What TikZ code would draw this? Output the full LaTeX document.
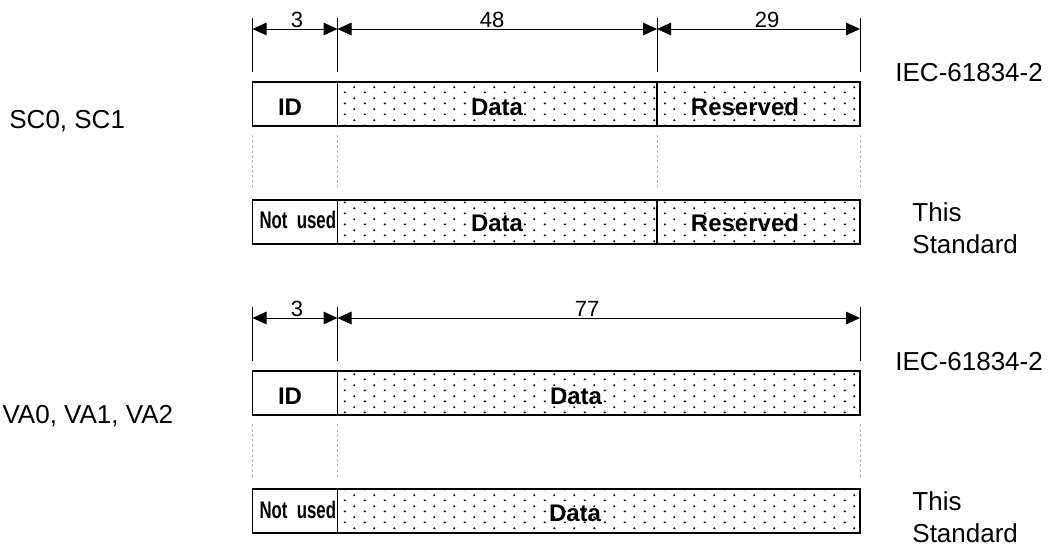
\documentclass[tikz,border=0pt]{standalone}
\usepackage{fontspec}
\setmainfont{Liberation Sans}
\usepackage{graphicx}
\usepackage{tikz}
\usetikzlibrary{arrows.meta,patterns.meta,positioning}

\tikzdeclarepattern{
  name=stagdots,
  type=uncolored,
  bounding box={(0pt,0pt) and (10pt,5.5pt)},
  tile size={(10pt,5.5pt)},
  code={
    \fill (2.5pt,1.4pt) circle (0.6pt);
    \fill (7.5pt,4.15pt) circle (0.6pt);
  }
}

\begin{document}
\begin{tikzpicture}[
  x=0.5pt, y=-0.5pt,
  cell/.style={draw, line width=0.75pt, minimum height=22pt, inner sep=0pt, outer sep=0pt},
  dotcell/.style={cell, pattern=stagdots, pattern color=black},
  lbl/.style={font=\bfseries\fontsize{12}{14}\selectfont, inner sep=0pt, anchor=base},
  num/.style={font=\fontsize{11}{13}\selectfont, inner sep=0pt, anchor=base},
  txt/.style={font=\fontsize{13}{16}\selectfont, inner sep=0pt, align=left},
  ext/.style={line width=0.5pt},
  guide/.style={gray!55, line width=0.4pt, dash pattern=on 1.5pt off 1pt, shorten <=4.5pt, shorten >=6pt},
  dim/.style={{Triangle[length=7pt,width=6.3pt]}-{Triangle[length=7pt,width=6.3pt]}, line width=0.5pt},
]
  \useasboundingbox (0,0) rectangle (1052,546);

  \node[cell, minimum width=42.5pt, anchor=north west] (id1) at (252.5,82) {};
  \node[dotcell, minimum width=159.75pt, right=0pt of id1] (data1) {};
  \node[dotcell, minimum width=101.5pt, right=0pt of data1] (res1) {};
  \node[cell, minimum width=42.5pt, anchor=north west] (nu2) at (252.5,200) {};
  \node[dotcell, minimum width=159.75pt, right=0pt of nu2] (data2) {};
  \node[dotcell, minimum width=101.5pt, right=0pt of data2] (res2) {};

  \node[cell, minimum width=42.5pt, anchor=north west] (id3) at (252.5,371) {};
  \node[dotcell, minimum width=261.25pt, right=0pt of id3] (data3) {};
  \node[cell, minimum width=42.5pt, anchor=north west] (nu4) at (252.5,489) {};
  \node[dotcell, minimum width=261.25pt, right=0pt of nu4] (data4) {};

  \node[lbl] (tid1) at (290,115) {ID};
  \node[lbl] (tdata1) at (497,115) {Data};
  \node[lbl] (tres1) at (745,115) {Reserved};
  \node[lbl, anchor=base east] (tnu2) at (336.5,228) {\scalebox{0.7}[1]{Not\ \ used}};
  \node[lbl] (tdata2) at (497,231) {Data};
  \node[lbl] (tres2) at (745,231) {Reserved};
  \node[lbl] (tid3) at (290,404) {ID};
  \node[lbl] (tdata3) at (576,404) {Data};
  \node[lbl, anchor=base east] (tnu4) at (336.5,518) {\scalebox{0.7}[1]{Not\ \ used}};
  \node[lbl] (tdata4) at (575,521) {Data};

  \foreach \nm/\x in {a/252.5,b/337.5,c/657,d/860}{
    \coordinate (u\nm) at (\x,29);
    \coordinate (l\nm) at (\x,318);
  }
  \foreach \c in {id1.north west,data1.north west,res1.north west,res1.north east,
                  id3.north west,data3.north west,data3.north east}
    \draw[ext] (\c) ++(0,-10) -- ++(0,-54);

  \draw[dim] (ua) -- (ub);
  \draw[dim] (ub) -- (uc);
  \draw[dim] (uc) -- (ud);
  \draw[dim] (la) -- (lb);
  \draw[dim] (lb) -- (ld);

  \node[num] (n3a) at (297,27) {3};
  \node[num] (n48) at (492,27) {48};
  \node[num] (n29) at (767,27) {29};
  \node[num] (n3b) at (297,316) {3};
  \node[num] (n77) at (587,316) {77};

  \draw[guide] (id1.south west) -- (nu2.north west);
  \draw[guide] (data1.south west) -- (data2.north west);
  \draw[guide] (res1.south west) -- (res2.north west);
  \draw[guide] (res1.south east) -- (res2.north east);
  \draw[guide] (id3.south west) -- (nu4.north west);
  \draw[guide] (data3.south west) -- (data4.north west);
  \draw[guide] (data3.south east) -- (data4.north east);

  \node[txt, anchor=base west] (iec1) at (895,81.5) {IEC-61834-2};
  \node[txt, anchor=north west] (std2) at (912,202) {This\\Standard};
  \node[txt, anchor=base west] (iec3) at (895,370.5) {IEC-61834-2};
  \node[txt, anchor=north west] (std4) at (912,491) {This\\Standard};
  \node[txt, anchor=base west] (sc) at (9,128) {SC0, SC1};
  \node[txt, anchor=base east] (va) at (173.5,423) {VA0, VA1, VA2};
\end{tikzpicture}
\end{document}
